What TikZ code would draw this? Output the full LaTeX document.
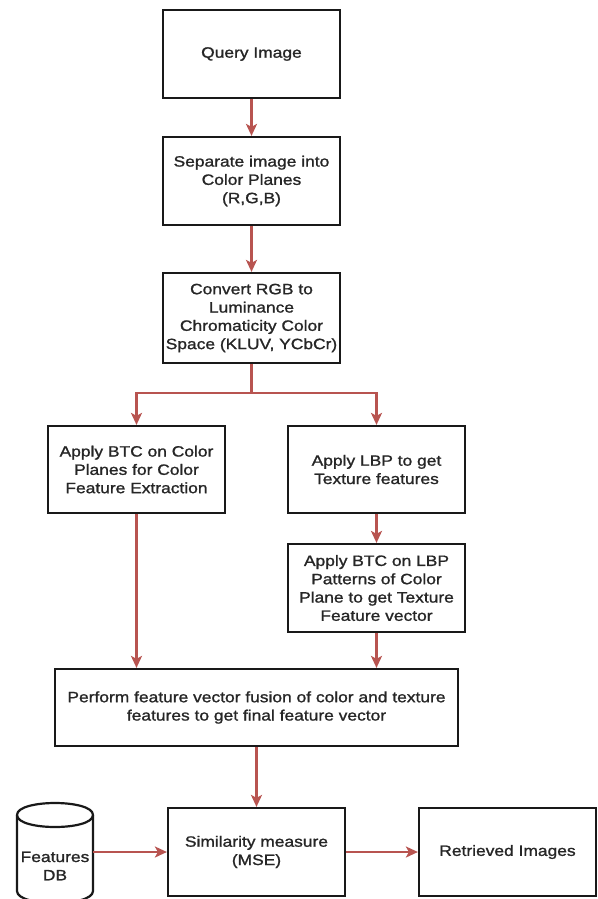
\documentclass[tikz,border=0pt]{standalone}
\usepackage{fontspec}
\setmainfont{Liberation Sans}[FakeStretch=1.16, FakeBold=1.2]
\usetikzlibrary{arrows.meta}
\definecolor{arrowred}{HTML}{B85450}
\tikzset{
  boxline/.style={draw=black!90, line width=2.2pt},
  procbox/.style={boxline, fill=white, rectangle, minimum width=177pt, inner sep=2pt,
    align=center, font=\fontsize{15}{18.3}\selectfont, text=black!85},
  flow/.style={draw=arrowred, line width=2.2pt, -{Stealth[length=12pt,width=11pt,inset=3pt]}},
  flowline/.style={draw=arrowred, line width=2.2pt},
}
\begin{document}
\begin{tikzpicture}[x=1pt,y=-1pt]
\useasboundingbox[fill=white] (0,0) rectangle (597,899);

\node[procbox, minimum height=88pt] (query) at (251.5,54) {Query Image};
\node[procbox, minimum height=88pt] (sep) at (251.5,181) {Separate image into\\Color Planes\\(R,G,B)};
\node[procbox, minimum height=90pt] (conv) at (251.5,318) {Convert RGB to\\Luminance\\Chromaticity Color\\Space (KLUV, YCbCr)};
\node[procbox, minimum height=87pt] (btcc) at (136.5,469.5) {Apply BTC on Color\\Planes for Color\\Feature Extraction};
\node[procbox, minimum height=87pt] (lbp) at (376.5,469.5) {Apply LBP to get\\Texture features};
\node[procbox, minimum height=88pt] (btcl) at (376.5,588) {Apply BTC on LBP\\Patterns of Color\\Plane to get Texture\\Feature vector};
\node[procbox, minimum width=403pt, minimum height=77pt] (fus) at (256.5,707.5) {Perform feature vector fusion of color and texture\\features to get final feature vector};
\node[procbox, minimum height=88pt] (sim) at (256.5,852) {Similarity measure\\(MSE)};
\node[procbox, minimum height=88pt] (ret) at (507.5,852) {Retrieved Images};

% database cylinder
\draw[boxline, fill=white] (17,815) -- (17,891) .. controls (17,907) and (93,907) .. (93,891)
  -- (93,815) .. controls (93,799) and (17,799) .. (17,815) -- cycle;
\draw[boxline] (17,815) .. controls (17,831) and (93,831) .. (93,815);
\node[align=center, font=\fontsize{15}{18.3}\selectfont, text=black!85, inner sep=0pt] (db) at (55,866) {Features\\DB};
\coordinate (dbE) at (93,852);
\coordinate (split) at (251.5,393);

% connectors
\draw[flow] (query) -- (sep);
\draw[flow] (sep) -- (conv);
\draw[flowline] (conv.south) -- (split);
\draw[flow] (split) -| (btcc.north);
\draw[flow] (split) -| (lbp.north);
\draw[flow] (lbp) -- (btcl);
\draw[flow] (btcc.south) -- (btcc.south |- fus.north);
\draw[flow] (btcl.south) -- (btcl.south |- fus.north);
\draw[flow] (fus) -- (sim);
\draw[flow] (dbE) -- (sim.west);
\draw[flow] (sim) -- (ret);
\end{tikzpicture}
\end{document}
